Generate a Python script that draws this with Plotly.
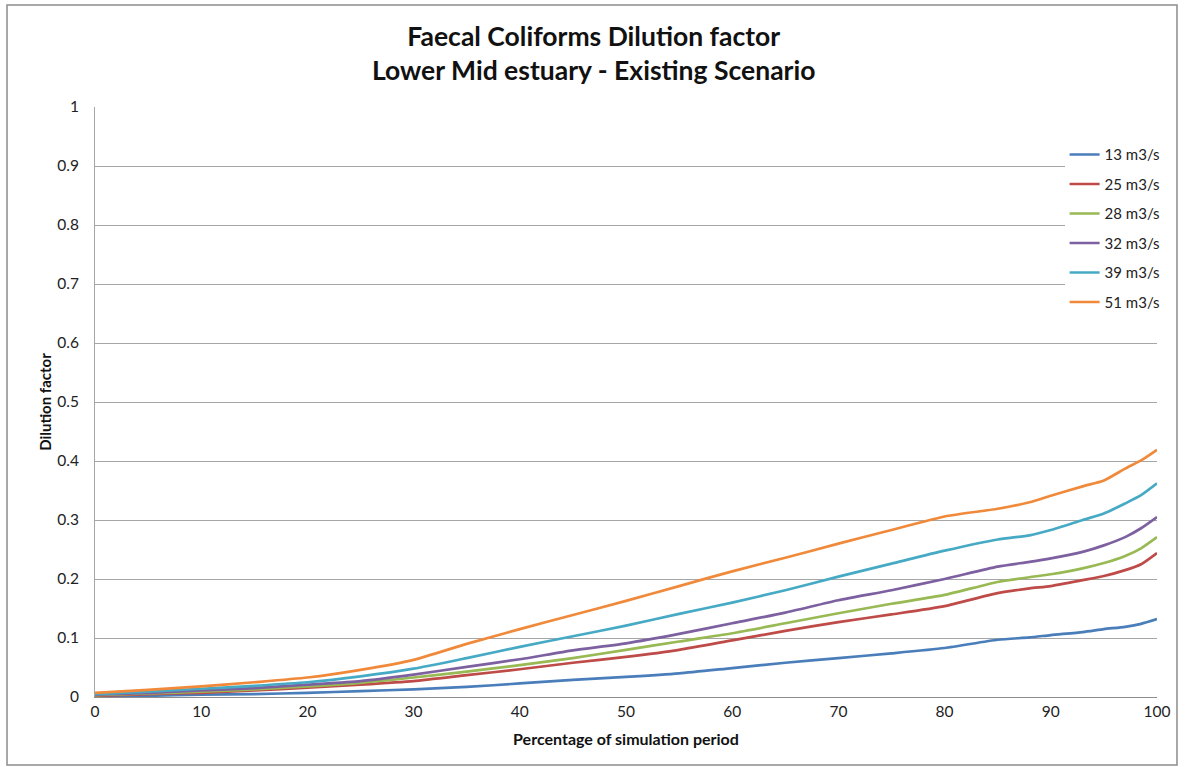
import plotly.graph_objects as go

# Percentage of simulation period (x) and dilution factor per river flow
pct = [0, 5, 10, 15, 20, 25, 30, 35, 40, 45, 50, 55, 60, 65, 70, 75, 80, 85, 88, 90, 93, 95, 97, 98.5, 100]

flow_13 = [0.001, 0.002, 0.004, 0.005, 0.007, 0.010, 0.013, 0.017, 0.023, 0.029, 0.034, 0.040, 0.049,
           0.058, 0.066, 0.074, 0.083, 0.097, 0.101, 0.105, 0.110, 0.115, 0.119, 0.124, 0.132]
flow_25 = [0.002, 0.005, 0.007, 0.011, 0.016, 0.021, 0.027, 0.037, 0.047, 0.058, 0.068, 0.080, 0.096,
           0.112, 0.127, 0.140, 0.154, 0.176, 0.184, 0.188, 0.198, 0.205, 0.215, 0.225, 0.244]
flow_28 = [0.003, 0.006, 0.009, 0.013, 0.018, 0.024, 0.033, 0.043, 0.054, 0.066, 0.080, 0.094, 0.108,
           0.125, 0.142, 0.158, 0.173, 0.195, 0.203, 0.208, 0.218, 0.227, 0.239, 0.252, 0.271]
flow_32 = [0.004, 0.007, 0.011, 0.015, 0.021, 0.027, 0.038, 0.051, 0.064, 0.079, 0.091, 0.107, 0.125,
           0.143, 0.164, 0.181, 0.200, 0.221, 0.229, 0.235, 0.246, 0.257, 0.271, 0.286, 0.305]
flow_39 = [0.005, 0.009, 0.014, 0.019, 0.025, 0.035, 0.048, 0.066, 0.085, 0.103, 0.121, 0.141, 0.160,
           0.181, 0.204, 0.226, 0.248, 0.267, 0.274, 0.283, 0.300, 0.311, 0.328, 0.342, 0.362]
flow_51 = [0.007, 0.012, 0.018, 0.025, 0.033, 0.046, 0.063, 0.090, 0.115, 0.139, 0.163, 0.188, 0.213,
           0.236, 0.260, 0.283, 0.306, 0.319, 0.330, 0.341, 0.357, 0.367, 0.387, 0.401, 0.419]

series_names = ["13 m3/s", "25 m3/s", "28 m3/s", "32 m3/s", "39 m3/s", "51 m3/s"]
series_values = [flow_13, flow_25, flow_28, flow_32, flow_39, flow_51]
series_colors = ["#4A7EBB", "#BE4B48", "#98B954", "#7D60A0", "#46AAC5", "#F08A3A"]

FONT = "Lato, 'Open Sans', sans-serif"

fig = go.Figure()
for name, vals, col in zip(series_names, series_values, series_colors):
    fig.add_trace(go.Scatter(
        x=pct, y=vals, mode="lines", name=name, legendgroup=name,
        line=dict(color=col, width=2.7, shape="spline", smoothing=0.6),
    ))

fig.update_layout(
    width=1186, height=767,
    paper_bgcolor="white", plot_bgcolor="white",
    margin=dict(l=95, r=29, t=107, b=70),
    font=dict(family=FONT, color="#222222", size=15),
    showlegend=True,
    legend=dict(
        x=0.913, xanchor="left", y=0.947, yanchor="top",
        bgcolor="white", borderwidth=0,
        font=dict(family=FONT, size=15, color="#222222"),
        tracegroupgap=7,
        itemwidth=30,
    ),
    xaxis=dict(
        range=[0, 100], dtick=10, tick0=0,
        showgrid=False, zeroline=False,
        showline=True, linecolor="#8c8c8c", linewidth=1,
        ticks="", tickfont=dict(family=FONT, size=15.5, color="#222222"),
        title=dict(text="<b>Percentage of simulation period</b>", standoff=15,
                   font=dict(family=FONT, size=16, color="#111111")),
    ),
    yaxis=dict(
        range=[0, 1], dtick=0.1, tick0=0,
        showgrid=True, gridcolor="#a6a6a6", gridwidth=1,
        zeroline=False,
        showline=True, linecolor="#a6a6a6", linewidth=1,
        ticks="", ticklabelstandoff=12,
        tickfont=dict(family=FONT, size=15.5, color="#222222"),
        title=dict(text="<b>Dilution factor</b>", standoff=2,
                   font=dict(family=FONT, size=15, color="#111111")),
    ),
)

# two-line chart title, centred on the whole figure
fig.add_annotation(
    text="<b>Faecal Coliforms Dilution factor<br>Lower Mid estuary - Existing Scenario</b>",
    xref="paper", yref="paper", x=(593 - 95) / 1062, xanchor="center",
    y=(697 - 18) / 590, yanchor="top",
    showarrow=False, align="center",
    font=dict(family=FONT, size=26.5, color="#111111"),
)

# outer chart frame
fig.add_shape(type="rect", xref="paper", yref="paper",
              x0=-88 / 1062, x1=1082 / 1062, y0=-68 / 590, y1=692 / 590,
              line=dict(color="#8c8c8c", width=1.5), fillcolor="rgba(0,0,0,0)", layer="below")

fig.write_html("out.html")
